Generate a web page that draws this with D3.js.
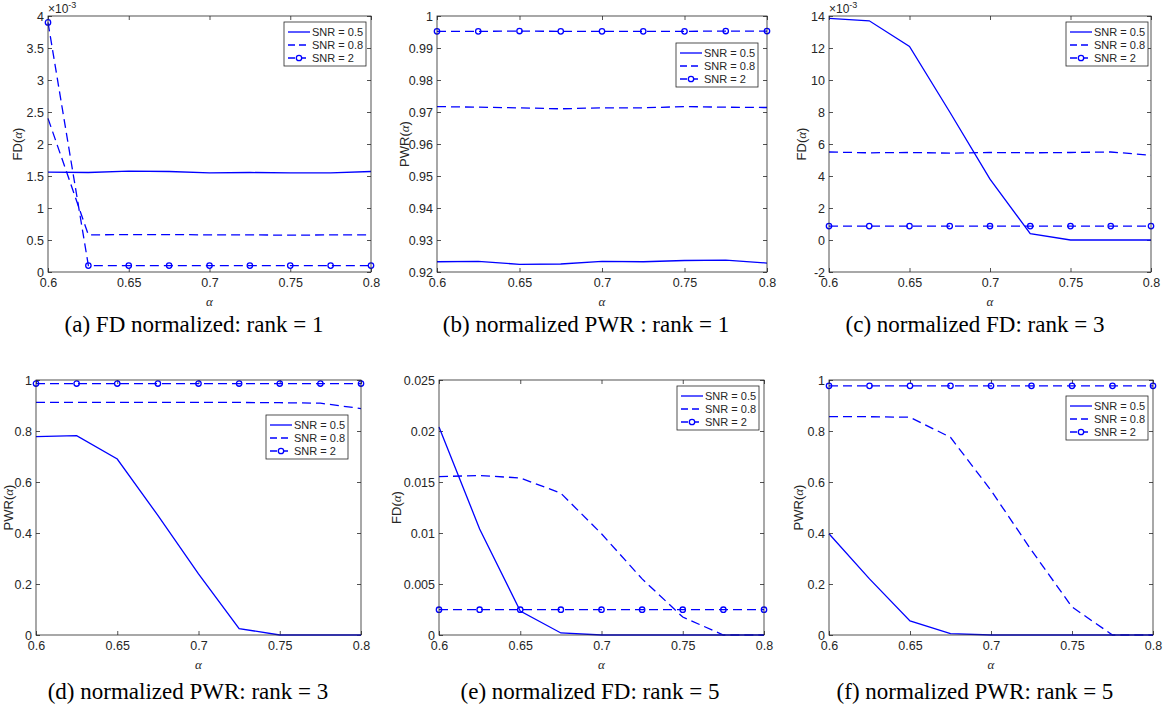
<!DOCTYPE html>
<html>
<head>
<meta charset="utf-8">
<script src="https://cdn.jsdelivr.net/npm/d3@7"></script>
<style>
  html, body { margin: 0; padding: 0; background: #fff; }
  svg { display: block; }
</style>
</head>
<body>
<div id="chart"></div>
<script>
// x values (alpha) shared by every panel
const alpha = [0.6, 0.625, 0.65, 0.675, 0.7, 0.725, 0.75, 0.775, 0.8];
const xTicks = [0.6, 0.65, 0.7, 0.75, 0.8];
const seriesNames = ['SNR = 0.5', 'SNR = 0.8', 'SNR = 2'];

// (a) FD, rank 1
const fdR1Snr05 = [0.00156, 0.001555, 0.001575, 0.00157, 0.00155, 0.001555, 0.00155, 0.00155, 0.00157];
const fdR1Snr08 = [0.0024, 0.00058, 0.000585, 0.000585, 0.00058, 0.00058, 0.000575, 0.00058, 0.00058];
const fdR1Snr2  = [0.0039, 0.0001, 0.0001, 0.0001, 0.0001, 0.0001, 0.0001, 0.0001, 0.0001];

// (b) PWR, rank 1
const pwrR1Snr05 = [0.9232, 0.9233, 0.9224, 0.9225, 0.9233, 0.9232, 0.9236, 0.9237, 0.9228];
const pwrR1Snr08 = [0.9717, 0.9715, 0.9713, 0.9710, 0.9713, 0.9713, 0.9717, 0.9715, 0.9714];
const pwrR1Snr2  = [0.9952, 0.9952, 0.9953, 0.9952, 0.9952, 0.9952, 0.9952, 0.9953, 0.9953];

// (c) FD, rank 3
const fdR3Snr05 = [0.01385, 0.0137, 0.0121, 0.0080, 0.0038, 0.0004, 0.0, 0.0, 0.0];
const fdR3Snr08 = [0.0055, 0.00545, 0.00547, 0.00543, 0.00547, 0.00545, 0.00547, 0.0055, 0.0053];
const fdR3Snr2  = [0.00087, 0.00087, 0.00087, 0.00087, 0.00087, 0.00087, 0.00087, 0.00087, 0.00087];

// (d) PWR, rank 3
const pwrR3Snr05 = [0.778, 0.782, 0.69, 0.469, 0.24, 0.025, 0.0, 0.0, 0.0];
const pwrR3Snr08 = [0.9125, 0.9125, 0.912, 0.912, 0.912, 0.912, 0.911, 0.909, 0.888];
const pwrR3Snr2  = [0.986, 0.986, 0.986, 0.986, 0.986, 0.986, 0.986, 0.986, 0.986];

// (e) FD, rank 5
const fdR5Snr05 = [0.0204, 0.0104, 0.00235, 0.0002, 0.0, 0.0, 0.0, 0.0, 0.0];
const fdR5Snr08 = [0.01553, 0.01563, 0.0154, 0.0139, 0.00992, 0.0055, 0.00176, 0.0, 0.0];
const fdR5Snr2  = [0.00248, 0.00248, 0.00248, 0.00248, 0.00248, 0.00248, 0.00248, 0.00248, 0.00248];

// (f) PWR, rank 5
const pwrR5Snr05 = [0.397, 0.22, 0.055, 0.005, 0.0, 0.0, 0.0, 0.0, 0.0];
const pwrR5Snr08 = [0.856, 0.856, 0.854, 0.775, 0.567, 0.332, 0.11, 0.0, 0.0];
const pwrR5Snr2  = [0.977, 0.977, 0.977, 0.977, 0.977, 0.977, 0.977, 0.977, 0.977];

// y tick labels (as printed on the axis)
const yTicksA = [0, 0.5, 1, 1.5, 2, 2.5, 3, 3.5, 4];
const yTicksB = [0.92, 0.93, 0.94, 0.95, 0.96, 0.97, 0.98, 0.99, 1];
const yTicksC = [-2, 0, 2, 4, 6, 8, 10, 12, 14];
const yTicksPwr = [0, 0.2, 0.4, 0.6, 0.8, 1];
const yTicksE = [0, 0.005, 0.01, 0.015, 0.02, 0.025];

const width = 1169;
const height = 713;
const ink = '#262626';
const blue = '#0000ff';

const panels = [
  { box: [48, 16, 371, 272], yDomain: [0, 4], yTicks: yTicksA, scale: 1e3, exp: true,
    yName: 'FD', yLabelX: 17, series: [fdR1Snr05, fdR1Snr08, fdR1Snr2],
    legend: [284, 22], caption: '(a) FD normalized: rank = 1', capX: 194, capY: 332 },
  { box: [437, 16, 767, 272], yDomain: [0.92, 1], yTicks: yTicksB, scale: 1, exp: false,
    yName: 'PWR', yLabelX: 404, series: [pwrR1Snr05, pwrR1Snr08, pwrR1Snr2],
    legend: [676, 43], caption: '(b) normalized PWR : rank = 1', capX: 586, capY: 332 },
  { box: [829, 16, 1151, 272], yDomain: [-2, 14], yTicks: yTicksC, scale: 1e3, exp: true,
    yName: 'FD', yLabelX: 801, series: [fdR3Snr05, fdR3Snr08, fdR3Snr2],
    legend: [1066, 22], caption: '(c) normalized FD: rank = 3', capX: 975, capY: 332 },
  { box: [36, 380, 361, 635], yDomain: [0, 1], yTicks: yTicksPwr, scale: 1, exp: false,
    yName: 'PWR', yLabelX: 8, series: [pwrR3Snr05, pwrR3Snr08, pwrR3Snr2],
    legend: [266, 415], caption: '(d) normalized PWR: rank = 3', capX: 188, capY: 699 },
  { box: [439, 380, 764, 635], yDomain: [0, 0.025], yTicks: yTicksE, scale: 1, exp: false,
    yName: 'FD', yLabelX: 396, series: [fdR5Snr05, fdR5Snr08, fdR5Snr2],
    legend: [677, 386], caption: '(e) normalized FD: rank = 5', capX: 590, capY: 699 },
  { box: [829, 380, 1153, 635], yDomain: [0, 1], yTicks: yTicksPwr, scale: 1, exp: false,
    yName: 'PWR', yLabelX: 798, series: [pwrR5Snr05, pwrR5Snr08, pwrR5Snr2],
    legend: [1066, 396], caption: '(f) normalized PWR: rank = 5', capX: 975, capY: 699 }
];

const styles = [
  { dash: null, marker: false },
  { dash: '9,5', marker: false },
  { dash: '9,5', marker: true }
];

const fmt = d => String(+d.toFixed(6));

const svg = d3.select('#chart')
  .append('svg')
  .attr('width', width)
  .attr('height', height)
  .attr('viewBox', `0 0 ${width} ${height}`);

panels.forEach((p, pi) => {
  const [x0, y0, x1, y1] = p.box;
  const w = x1 - x0;
  const h = y1 - y0;

  const xScale = d3.scaleLinear().domain([0.6, 0.8]).range([0, w]);
  const yScale = d3.scaleLinear().domain(p.yDomain).range([h, 0]);

  const g = svg.append('g').attr('transform', `translate(${x0},${y0})`);

  const styleAxis = sel => {
    sel.select('.domain').remove();
    sel.selectAll('line').attr('stroke', ink).attr('stroke-width', 0.8);
    sel.selectAll('text')
      .attr('fill', ink)
      .style('font-family', 'Liberation Sans, Arial, sans-serif')
      .style('font-size', '12.5px');
  };

  // axes with inward ticks on all four sides
  g.append('g')
    .attr('transform', `translate(0,${h})`)
    .call(d3.axisBottom(xScale).tickValues(xTicks).tickFormat(fmt).tickSizeInner(-4).tickSizeOuter(0).tickPadding(6))
    .call(styleAxis);
  g.append('g')
    .call(d3.axisTop(xScale).tickValues(xTicks).tickFormat('').tickSizeInner(-4).tickSizeOuter(0))
    .call(styleAxis);
  g.append('g')
    .call(d3.axisLeft(yScale).tickValues(p.yTicks).tickFormat(fmt).tickSizeInner(-4).tickSizeOuter(0).tickPadding(4))
    .call(styleAxis);
  g.append('g')
    .attr('transform', `translate(${w},0)`)
    .call(d3.axisRight(yScale).tickValues(p.yTicks).tickFormat('').tickSizeInner(-4).tickSizeOuter(0))
    .call(styleAxis);

  // data lines
  const clipId = `clip${pi}`;
  g.append('clipPath').attr('id', clipId)
    .append('rect').attr('x', -4).attr('y', -4).attr('width', w + 8).attr('height', h + 8);

  const plot = g.append('g').attr('clip-path', `url(#${clipId})`);

  p.series.forEach((vals, si) => {
    const pts = alpha.map((a, i) => [a, vals[i] * p.scale]);
    const line = d3.line().x(d => xScale(d[0])).y(d => yScale(d[1]));
    plot.append('path')
      .datum(pts)
      .attr('d', line)
      .attr('fill', 'none')
      .attr('stroke', blue)
      .attr('stroke-width', 1.3)
      .attr('stroke-dasharray', styles[si].dash);
    if (styles[si].marker) {
      plot.selectAll(null)
        .data(pts)
        .enter()
        .append('circle')
        .attr('cx', d => xScale(d[0]))
        .attr('cy', d => yScale(d[1]))
        .attr('r', 2.7)
        .attr('fill', 'none')
        .attr('stroke', blue)
        .attr('stroke-width', 1.3);
    }
  });

  // axes box
  g.append('rect')
    .attr('width', w)
    .attr('height', h)
    .attr('fill', 'none')
    .attr('stroke', ink)
    .attr('stroke-width', 0.8);

  // exponent label
  if (p.exp) {
    const t = g.append('text')
      .attr('x', 0)
      .attr('y', -3)
      .attr('fill', ink)
      .style('font-family', 'Liberation Sans, Arial, sans-serif')
      .style('font-size', '12px');
    t.append('tspan').text('\u00d710');
    t.append('tspan').attr('dy', -5).style('font-size', '9px').text('-3');
  }

  // y label
  const yl = svg.append('text')
    .attr('transform', `translate(${p.yLabelX},${y0 + h / 2}) rotate(-90)`)
    .attr('text-anchor', 'middle')
    .attr('dy', '0.35em')
    .attr('fill', ink)
    .style('font-family', 'Liberation Sans, Arial, sans-serif')
    .style('font-size', '13px');
  yl.append('tspan').text(p.yName + '(');
  yl.append('tspan').style('font-family', 'Liberation Serif, serif').style('font-style', 'italic').text('\u03b1');
  yl.append('tspan').text(')');

  // x label
  svg.append('text')
    .attr('x', x0 + w / 2)
    .attr('y', y1 + 34)
    .attr('text-anchor', 'middle')
    .attr('fill', ink)
    .style('font-family', 'Liberation Serif, serif')
    .style('font-style', 'italic')
    .style('font-size', '13px')
    .text('\u03b1');

  // legend
  const [lx, ly] = p.legend;
  const lg = svg.append('g').attr('transform', `translate(${lx},${ly})`);
  lg.append('rect')
    .attr('width', 82)
    .attr('height', 44)
    .attr('fill', '#fff')
    .attr('stroke', ink)
    .attr('stroke-width', 0.8);
  seriesNames.forEach((name, si) => {
    const cy = 10 + si * 13;
    lg.append('line')
      .attr('x1', 4).attr('x2', 26)
      .attr('y1', cy).attr('y2', cy)
      .attr('stroke', blue)
      .attr('stroke-width', 1.3)
      .attr('stroke-dasharray', styles[si].dash ? '7,4' : null);
    if (styles[si].marker) {
      lg.append('circle')
        .attr('cx', 15).attr('cy', cy).attr('r', 2.7)
        .attr('fill', '#fff').attr('stroke', blue).attr('stroke-width', 1.3);
    }
    lg.append('text')
      .attr('x', 28)
      .attr('y', cy)
      .attr('dy', '0.35em')
      .attr('fill', ink)
      .style('font-family', 'Liberation Sans, Arial, sans-serif')
      .style('font-size', '11px')
      .text(name);
  });

  // caption
  svg.append('text')
    .attr('x', p.capX)
    .attr('y', p.capY)
    .attr('text-anchor', 'middle')
    .attr('fill', '#000')
    .style('font-family', 'Liberation Serif, serif')
    .style('font-size', '23px')
    .text(p.caption);
});
</script>
</body>
</html>
